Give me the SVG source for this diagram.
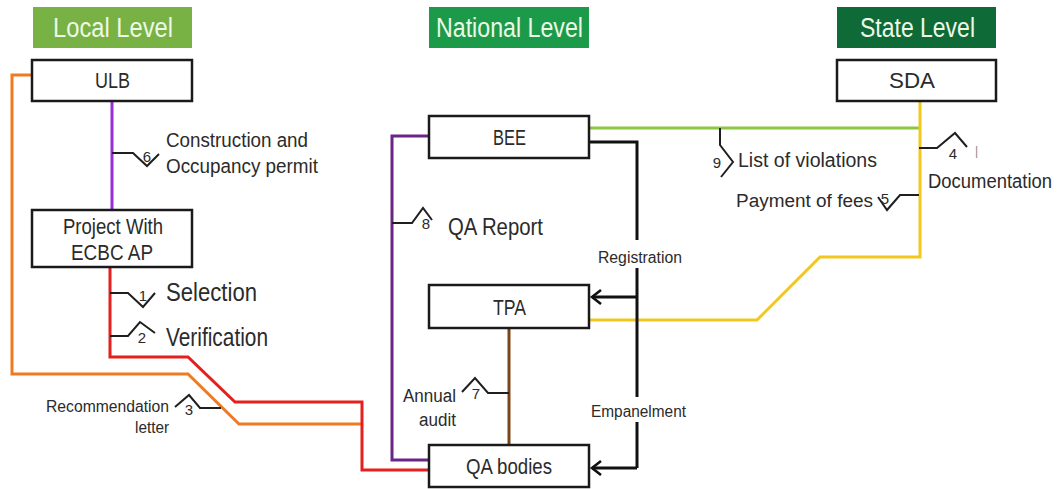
<svg xmlns="http://www.w3.org/2000/svg" width="1062" height="489" viewBox="0 0 1062 489">
<style>
text{font-family:"Liberation Sans",Arial,sans-serif;fill:#2b2b2b}
.hdr{fill:#eef8e6;font-size:27px;text-anchor:start}
.box{fill:#fff;stroke:#1a1a1a;stroke-width:2.5}
.nl{font-size:22px}
.lbl{font-size:20px}
.big{font-size:25px}
.sm{font-size:16px}
.num{font-size:15px;text-anchor:middle}
.c{fill:none;stroke-width:3;stroke-linejoin:miter}
.flag{fill:none;stroke:#1f1f1f;stroke-width:2}
</style>
<defs>
<marker id="arr" markerUnits="userSpaceOnUse" markerWidth="16" markerHeight="18" refX="12" refY="8" orient="auto" viewBox="0 0 16 18">
<path d="M3,1 L12,8 L3,15" fill="none" stroke="#111" stroke-width="2.6"/>
</marker>
</defs>
<rect width="1062" height="489" fill="#fff"/>

<g id="headers">
<g id="local-level"><rect x="33" y="7" width="159" height="41" fill="#78b244"/><text class="hdr" x="53" y="37" textLength="120" lengthAdjust="spacingAndGlyphs">Local Level</text></g>
<g id="national-level"><rect x="429" y="7" width="160" height="41" fill="#1b9b49"/><text class="hdr" x="436" y="37" textLength="147" lengthAdjust="spacingAndGlyphs">National Level</text></g>
<g id="state-level"><rect x="837" y="7" width="159" height="41" fill="#0e6a37"/><text class="hdr" x="860" y="37" textLength="115" lengthAdjust="spacingAndGlyphs">State Level</text></g>
</g>

<g id="connectors">
<path class="c" stroke="#9a2fd6" d="M112,101 V210"/>
<path class="c" stroke="#f07a22" d="M32,75 H12 V374 H188 L239,424 H362"/>
<path class="c" stroke="#e4201f" d="M110,268 V357 H188 L235,402 H362 V470 H429"/>
<path class="c" stroke="#6b2585" d="M429,136 H392 V460 H429"/>
<path class="c" stroke="#8dc63f" d="M589,128 H920"/>
<path class="c" stroke="#f2c81e" d="M589,320 H757 L820,257 H920 V101"/>
<path class="c" stroke="#7a4419" d="M509,328 V445"/>
<path class="c" stroke="#111" d="M589,142 H637 V240 M637,268 V397 M637,422 V468"/>
<path class="c" stroke="#111" d="M637,297 H592" marker-end="url(#arr)"/>
<path class="c" stroke="#111" d="M637,468 H592" marker-end="url(#arr)"/>
</g>

<g id="flags">
<polyline class="flag" points="112,153 133,153 147,166 159,154"/><text class="num" x="147" y="162">6</text>
<polyline class="flag" points="110,293 128,293 143,307 155,293"/><text class="num" x="143" y="301">1</text>
<polyline class="flag" points="110,336 128,336 140,322 155,333"/><text class="num" x="142" y="343">2</text>
<polyline class="flag" points="221,408 200,408 189,395 175,407"/><text class="num" x="189" y="415">3</text>
<polyline class="flag" points="919,148 937,148 955,133 967,147"/><text class="num" x="953" y="159">4</text>
<text x="975" y="155" style="font-size:12px;fill:#888">|</text>
<polyline class="flag" points="919,195 900,195 887,210 878,197"/><text class="num" x="885" y="204">5</text>
<polyline class="flag" points="509,393 488,393 475,378 462,392"/><text class="num" x="476" y="399">7</text>
<polyline class="flag" points="392,223 412,223 423,208 432,220"/><text class="num" x="426" y="229">8</text>
<polyline class="flag" points="720,128 720,145 733,162 721,177"/><text class="num" x="717" y="168">9</text>
</g>

<g id="labels">
<text class="lbl" x="166" y="147" textLength="142" lengthAdjust="spacingAndGlyphs">Construction and</text>
<text class="lbl" x="166" y="173" textLength="152" lengthAdjust="spacingAndGlyphs">Occupancy permit</text>
<text class="big" x="166" y="301" textLength="91" lengthAdjust="spacingAndGlyphs">Selection</text>
<text class="big" x="166" y="346" textLength="102" lengthAdjust="spacingAndGlyphs">Verification</text>
<text class="sm" x="46" y="412" textLength="123" lengthAdjust="spacingAndGlyphs">Recommendation</text>
<text class="sm" x="135" y="433" textLength="34" lengthAdjust="spacingAndGlyphs">letter</text>
<text class="big" x="448" y="235" textLength="95" lengthAdjust="spacingAndGlyphs" style="font-size:23px">QA Report</text>
<text class="lbl" x="738" y="167" textLength="139" lengthAdjust="spacingAndGlyphs">List of violations</text>
<text class="lbl" x="928" y="188" textLength="124" lengthAdjust="spacingAndGlyphs">Documentation</text>
<text class="lbl" x="736" y="207" textLength="137" lengthAdjust="spacingAndGlyphs" style="font-size:18px">Payment of fees</text>
<text class="sm" x="598" y="263" textLength="84" lengthAdjust="spacingAndGlyphs">Registration</text>
<text class="sm" x="591" y="417" textLength="95" lengthAdjust="spacingAndGlyphs">Empanelment</text>
<text class="lbl" x="403" y="402" textLength="53" lengthAdjust="spacingAndGlyphs" style="font-size:18px">Annual</text>
<text class="lbl" x="419" y="426" textLength="37" lengthAdjust="spacingAndGlyphs" style="font-size:18px">audit</text>
</g>

<g id="ulb"><rect class="box" x="32" y="60" width="160" height="41"/><text class="nl" x="95" y="88" textLength="35" lengthAdjust="spacingAndGlyphs">ULB</text></g>
<g id="project"><rect class="box" x="32" y="210" width="160" height="57"/><text class="nl" x="63" y="234" textLength="100" lengthAdjust="spacingAndGlyphs">Project With</text><text class="nl" x="71" y="260" textLength="82" lengthAdjust="spacingAndGlyphs">ECBC AP</text></g>
<g id="bee"><rect class="box" x="429" y="116" width="160" height="42"/><text class="nl" x="493" y="145" textLength="33" lengthAdjust="spacingAndGlyphs">BEE</text></g>
<g id="tpa"><rect class="box" x="429" y="285" width="160" height="43"/><text class="nl" x="493" y="315" textLength="33" lengthAdjust="spacingAndGlyphs">TPA</text></g>
<g id="qa-bodies"><rect class="box" x="429" y="445" width="160" height="42"/><text class="nl" x="466" y="474" textLength="86" lengthAdjust="spacingAndGlyphs">QA bodies</text></g>
<g id="sda"><rect class="box" x="837" y="60" width="159" height="41"/><text class="nl" x="889" y="88" textLength="46" lengthAdjust="spacingAndGlyphs">SDA</text></g>
</svg>
